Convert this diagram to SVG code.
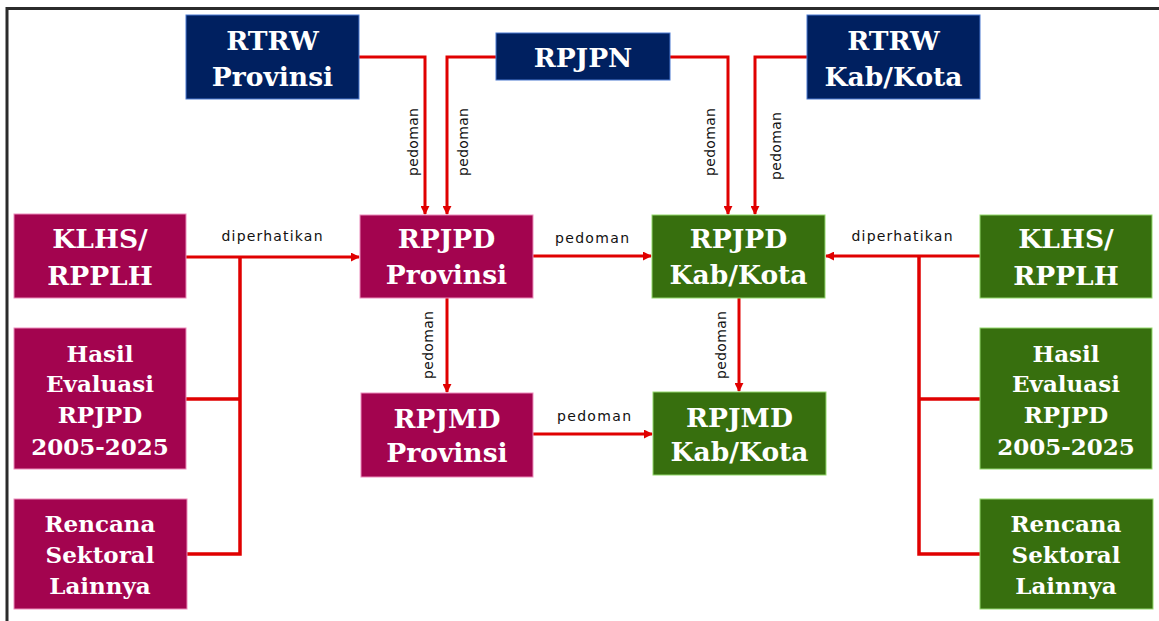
<svg xmlns="http://www.w3.org/2000/svg" width="1159" height="621" viewBox="0 0 1159 621">
<defs>
<style>
.navy{fill:#002060;stroke:#4a78d0;stroke-width:1}
.mag{fill:#a3044f;stroke:#ec8cbb;stroke-width:1}
.grn{fill:#376f0e;stroke:#93d86c;stroke-width:1}
.t{font-family:"DejaVu Serif",serif;font-weight:bold;fill:#ffffff;text-anchor:middle}
.big{font-size:26.5px}
.sm{font-size:23px}
.c{fill:none;stroke:#e00000;stroke-width:3}
.bus{fill:none;stroke:#e00000;stroke-width:3.5}
.lb{font-family:"DejaVu Sans",sans-serif;font-size:14px;fill:#111;text-anchor:middle}
</style>
<marker id="ah" viewBox="0 0 10 10" refX="9" refY="5" markerWidth="9" markerHeight="9" markerUnits="userSpaceOnUse" orient="auto">
<path d="M0,0 L10,5 L0,10 z" fill="#e00000"/>
</marker>
</defs>
<rect width="1159" height="621" fill="#ffffff"/>
<g id="frame" fill="none" stroke="#2b2b2b" stroke-width="3">
<path d="M7,621 V8.5 H1159"/>
</g>
<g id="connectors">
<path class="c" d="M359,57 H425 V214" marker-end="url(#ah)"/>
<path class="c" d="M496,57 H447 V214" marker-end="url(#ah)"/>
<path class="c" d="M670,57 H728 V214" marker-end="url(#ah)"/>
<path class="c" d="M807,57 H755 V214" marker-end="url(#ah)"/>
<path class="c" d="M186,257 H359" marker-end="url(#ah)"/>
<path class="bus" d="M240,257 V554 H187 M186,399 H240"/>
<path class="c" d="M533,256 H651" marker-end="url(#ah)"/>
<path class="c" d="M533,434 H652" marker-end="url(#ah)"/>
<path class="c" d="M447,298 V392" marker-end="url(#ah)"/>
<path class="c" d="M739,298 V391" marker-end="url(#ah)"/>
<path class="c" d="M980,256 H826" marker-end="url(#ah)"/>
<path class="bus" d="M919,256 V554 H980 M980,399 H919"/>
<text class="lb" x="272" y="241" textLength="101" lengthAdjust="spacing">diperhatikan</text>
<text class="lb" x="902" y="241" textLength="101" lengthAdjust="spacing">diperhatikan</text>
<text class="lb" x="592" y="243" textLength="74" lengthAdjust="spacing">pedoman</text>
<text class="lb" x="594" y="421" textLength="74" lengthAdjust="spacing">pedoman</text>
<text class="lb" transform="translate(413,142) rotate(-90)" dominant-baseline="central" textLength="68" lengthAdjust="spacing">pedoman</text>
<text class="lb" transform="translate(463,142) rotate(-90)" dominant-baseline="central" textLength="68" lengthAdjust="spacing">pedoman</text>
<text class="lb" transform="translate(710,142) rotate(-90)" dominant-baseline="central" textLength="68" lengthAdjust="spacing">pedoman</text>
<text class="lb" transform="translate(776,146) rotate(-90)" dominant-baseline="central" textLength="68" lengthAdjust="spacing">pedoman</text>
<text class="lb" transform="translate(428,345) rotate(-90)" dominant-baseline="central" textLength="68" lengthAdjust="spacing">pedoman</text>
<text class="lb" transform="translate(721,345) rotate(-90)" dominant-baseline="central" textLength="68" lengthAdjust="spacing">pedoman</text>
</g>
<g id="rtrw-prov"><rect class="navy" x="186" y="15" width="173" height="84"/><text class="t big" x="272.5" y="50">RTRW</text><text class="t big" x="272.5" y="86">Provinsi</text></g>
<g id="rpjpn"><rect class="navy" x="496" y="33" width="174" height="47"/><text class="t big" x="583" y="67">RPJPN</text></g>
<g id="rtrw-kab"><rect class="navy" x="807" y="15" width="173" height="84"/><text class="t big" x="893.5" y="50">RTRW</text><text class="t big" x="893.5" y="86">Kab/Kota</text></g>
<g id="klhs-l"><rect class="mag" x="14" y="214" width="172" height="84"/><text class="t big" x="100" y="248">KLHS/</text><text class="t big" x="100" y="285">RPPLH</text></g>
<g id="hasil-l"><rect class="mag" x="14" y="328" width="172" height="141"/><text class="t sm" x="100" y="362">Hasil</text><text class="t sm" x="100" y="392">Evaluasi</text><text class="t sm" x="100" y="423">RPJPD</text><text class="t sm" x="100" y="455">2005-2025</text></g>
<g id="rencana-l"><rect class="mag" x="14" y="499" width="173" height="110"/><text class="t sm" x="100" y="532">Rencana</text><text class="t sm" x="100" y="563">Sektoral</text><text class="t sm" x="100" y="594">Lainnya</text></g>
<g id="rpjpd-prov"><rect class="mag" x="360" y="215" width="173" height="83"/><text class="t big" x="446.5" y="248">RPJPD</text><text class="t big" x="446.5" y="284">Provinsi</text></g>
<g id="rpjpd-kab"><rect class="grn" x="652" y="215" width="173" height="83"/><text class="t big" x="738.5" y="248">RPJPD</text><text class="t big" x="738.5" y="284">Kab/Kota</text></g>
<g id="rpjmd-prov"><rect class="mag" x="361" y="393" width="172" height="84"/><text class="t big" x="447" y="428">RPJMD</text><text class="t big" x="447" y="462">Provinsi</text></g>
<g id="rpjmd-kab"><rect class="grn" x="653" y="392" width="173" height="83"/><text class="t big" x="739.5" y="427">RPJMD</text><text class="t big" x="739.5" y="461">Kab/Kota</text></g>
<g id="klhs-r"><rect class="grn" x="980" y="215" width="172" height="83"/><text class="t big" x="1066" y="248">KLHS/</text><text class="t big" x="1066" y="285">RPPLH</text></g>
<g id="hasil-r"><rect class="grn" x="980" y="328" width="172" height="141"/><text class="t sm" x="1066" y="362">Hasil</text><text class="t sm" x="1066" y="392">Evaluasi</text><text class="t sm" x="1066" y="423">RPJPD</text><text class="t sm" x="1066" y="455">2005-2025</text></g>
<g id="rencana-r"><rect class="grn" x="980" y="499" width="173" height="110"/><text class="t sm" x="1066" y="532">Rencana</text><text class="t sm" x="1066" y="563">Sektoral</text><text class="t sm" x="1066" y="594">Lainnya</text></g>
</svg>
